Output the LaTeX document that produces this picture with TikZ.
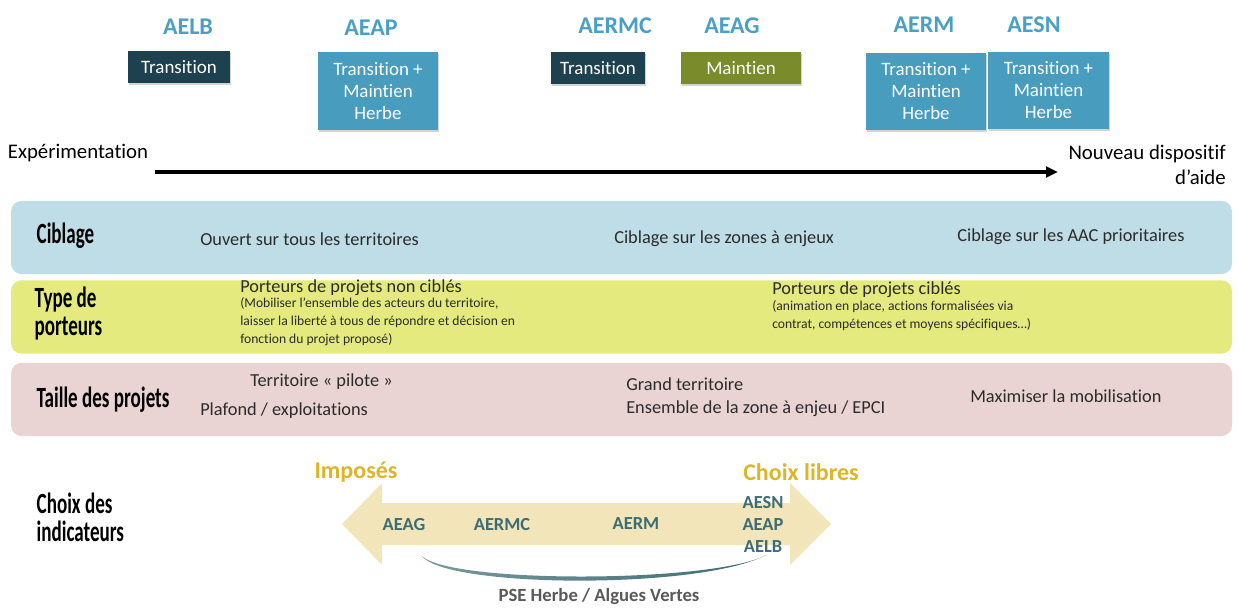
\documentclass[tikz,border=0pt]{standalone}
\usepackage{fontspec}
\setmainfont[Ligatures=NoCommon]{Carlito}
\newfontfamily\headfont[FakeStretch=0.65]{Carlito}
\usepackage{xcolor}
\usetikzlibrary{positioning,arrows.meta,calc,shadows}

\definecolor{agbleu}{HTML}{4A9FC4}
\definecolor{sombre}{HTML}{1E4150}
\definecolor{clair}{HTML}{489CBE}
\definecolor{olive}{HTML}{7A8B2B}
\definecolor{cibl}{HTML}{BFDDE7}
\definecolor{porteur}{HTML}{E4EA7D}
\definecolor{taille}{HTML}{E9D4D3}
\definecolor{beige}{HTML}{F2E5B9}
\definecolor{dore}{HTML}{DBB628}
\definecolor{sarcelle}{HTML}{3D6C74}
\definecolor{gristexte}{HTML}{2B2B2B}
\definecolor{grispse}{HTML}{595959}

\begin{document}
\begin{tikzpicture}[
  x=0.75pt, y=-0.75pt,
  agence/.style={font=\fontsize{18}{20}\selectfont\bfseries, text=agbleu},
  boite/.style={text=white, align=center, font=\fontsize{14.2}{16.5}\selectfont,
                inner sep=0pt, drop shadow={shadow xshift=1pt, shadow yshift=-1.2pt, opacity=.35}},
  bande/.style={rounded corners=8pt, minimum width=915.75pt, minimum height=55pt, inner sep=0pt},
  titre/.style={font=\headfont\bfseries\fontsize{22}{21}\selectfont, anchor=west, align=left, text=black},
  txt/.style={font=\fontsize{13.75}{17}\selectfont, text=gristexte, anchor=west, align=left, inner sep=0pt},
  petit/.style={font=\fontsize{10.2}{13.5}\selectfont, text=gristexte, anchor=north west, align=left, inner sep=0pt},
  indic/.style={font=\fontsize{13.8}{16.5}\selectfont\bfseries, text=sarcelle, align=center, inner sep=0pt},
  pole/.style={font=\fontsize{18}{20}\selectfont\bfseries, text=dore}
]
  % agences et positionnement
  \node[agence] (lbT) at (188,27) {AELB};
  \node[agence] (apT) at (371,28) {AEAP};
  \node[agence] (rmcT) at (615,26) {AERMC};
  \node[agence] (agT) at (732,26) {AEAG};
  \node[agence] (rmT) at (924,25) {AERM};
  \node[agence] (snT) at (1034,25) {AESN};

  \node[boite, fill=sombre, minimum width=76.5pt, minimum height=24pt] (lbB) at (179,67) {Transition};
  \node[boite, fill=clair, minimum width=90pt, minimum height=58.5pt] (apB) at (378,91) {Transition +\\Maintien\\Herbe};
  \node[boite, fill=sombre, minimum width=70.5pt, minimum height=24pt] (rmcB) at (598,68) {Transition};
  \node[boite, fill=olive, minimum width=90pt, minimum height=24pt] (agB) at (741,68) {Maintien};
  \node[boite, fill=clair, minimum width=90pt, minimum height=57.75pt] (rmB) at (926,91.5) {Transition +\\Maintien\\Herbe};
  \node[boite, fill=clair, minimum width=90.75pt, minimum height=57.75pt] (snB) at (1048.5,90.5) {Transition +\\Maintien\\Herbe};

  % frise
  \node[txt, anchor=center, text=black, font=\fontsize{15.6}{19}\selectfont] (exp) at (78,153) {Expérimentation};
  \node[txt, anchor=east, align=right, text=black, font=\fontsize{15.6}{19}\selectfont] (nouv) at (1226,165) {Nouveau dispositif\\d’aide};
  \coordinate (debut) at (155,172);
  \coordinate (fin) at (1058,172);
  \draw[line width=2.4pt, -{Triangle[length=9pt, width=8pt]}] (debut) -- (fin);

  % bandes
  \node[bande, fill=cibl] (bCibl) at (621.5,237.5) {};
  \node[bande, fill=porteur] (bPort) at (621.5,317) {};
  \node[bande, fill=taille] (bTaille) at (621.5,399.5) {};

  \node[titre] (tCibl) at (32,236) {Ciblage};
  \node[titre] (tPort) at (30,314) {Type de\\porteurs};
  \node[titre] (tTaille) at (32,400) {Taille des projets};
  \node[titre] (tChoix) at (32,517) {Choix des\\indicateurs};

  \node[txt] (c1) at (200,239) {Ouvert sur tous les territoires};
  \node[txt] (c2) at (614,239) {Ciblage sur les zones à enjeux};
  \node[txt] (c3) at (957,237) {Ciblage sur les AAC prioritaires};

  \node[txt] (p1) at (240,288) {Porteurs de projets non ciblés};
  \node[petit] (p1b) at (240,297) {(Mobiliser l’ensemble des acteurs du territoire,\\laisser la liberté à tous de répondre et décision en\\fonction du projet proposé)};
  \node[txt] (p2) at (772,290) {Porteurs de projets ciblés};
  \node[petit] (p2b) at (772,300) {(animation en place, actions formalisées via\\contrat, compétences et moyens spécifiques…)};

  \node[txt] (s1) at (250,382) {Territoire « pilote »};
  \node[txt] (s2) at (200,411) {Plafond / exploitations};
  \node[txt, font=\fontsize{13.75}{17.3}\selectfont] (s3) at (626,397.5) {Grand territoire\\Ensemble de la zone à enjeu / EPCI};
  \node[txt] (s4) at (970,396) {Maximiser la mobilisation};

  % choix des indicateurs
  \fill[beige] (342,524) -- (382,483) -- (382,503) -- (790,503) -- (790,483) -- (831,524)
    -- (790,565) -- (790,545) -- (382,545) -- (382,565) -- cycle;
  \node[pole] (impose) at (356,472) {Imposés};
  \node[pole] (libre) at (801,472) {Choix libres};
  \node[indic] (agI) at (404,525) {AEAG};
  \node[indic] (rmcI) at (502,525) {AERMC};
  \node[indic] (rmI) at (636,524) {AERM};
  \node[indic] (libI) at (763,524) {AESN\\AEAP\\AELB};

  \coordinate (sw1) at (422,556);
  \coordinate (sw2) at (766,555);
  \shade[left color=sarcelle!70, right color=sarcelle] (sw1) .. controls (445,588) and (700,590) .. (sw2)
    .. controls (715,583) and (450,584) .. (sw1);
  \node[font=\fontsize{14}{16}\selectfont\bfseries, text=grispse] (pse) at (599,597) {PSE Herbe / Algues Vertes};

  \useasboundingbox (0,0) rectangle (1238,606);
\end{tikzpicture}
\end{document}
